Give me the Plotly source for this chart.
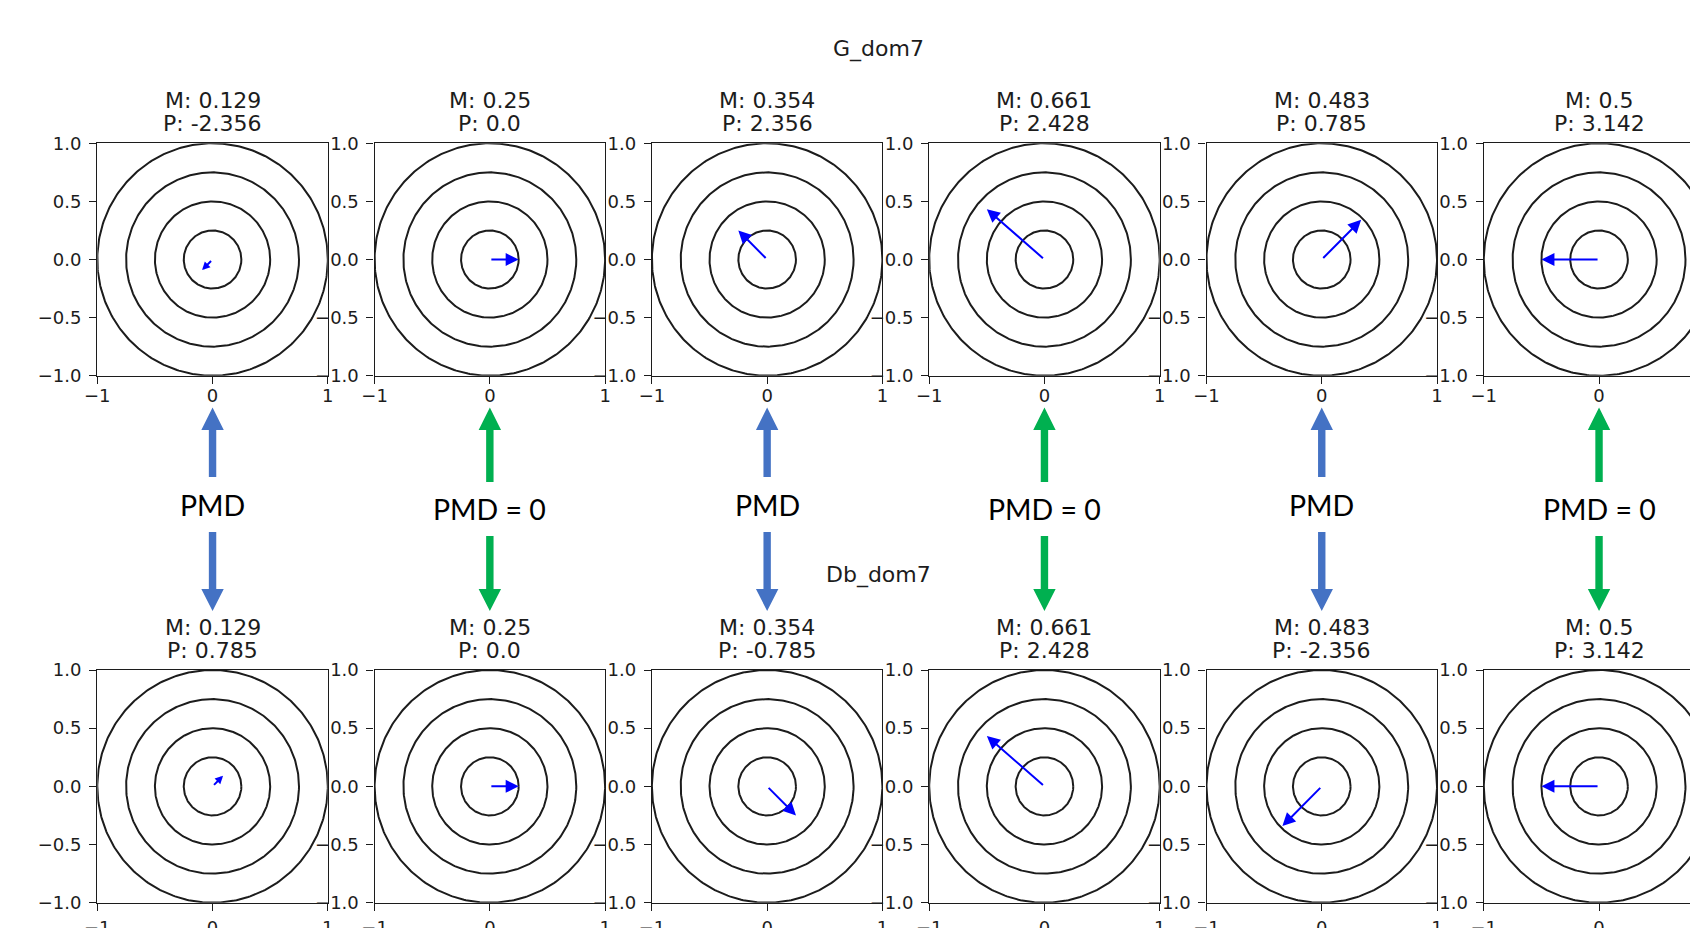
import numpy as np
import plotly.graph_objects as go

# ---------------- data ----------------
chord_titles = ["G_dom7", "Db_dom7"]
magnitudes_G = [0.129, 0.25, 0.354, 0.661, 0.483, 0.5]
phases_G = [-2.356, 0.0, 2.356, 2.428, 0.785, 3.142]
magnitudes_Db = [0.129, 0.25, 0.354, 0.661, 0.483, 0.5]
phases_Db = [0.785, 0.0, -0.785, 2.428, -2.356, 3.142]
pmd_labels = ["PMD", "PMD = 0", "PMD", "PMD = 0", "PMD", "PMD = 0"]
ring_radii = [0.25, 0.5, 0.75, 1.0]
x_tick_vals = [-1, 0, 1]
x_tick_text = ["\u22121", "0", "1"]
y_tick_vals = [-1.0, -0.5, 0.0, 0.5, 1.0]
y_tick_text = ["\u22121.0", "\u22120.5", "0.0", "0.5", "1.0"]

# ---------------- layout geometry (page pixels) ----------------
W, H = 1690, 928
PAGE_OFF = 0          # body margin removed by the post script
AX_LEFT0 = 97.3
AX_STEP = 277.3
AX_W = 230.5
ROW_TOP = [143.3, 670.0]
ROW_BOT = [375.7, 902.7]
MPL_FONT = "DejaVu Sans"
PPT_FONT = "Lato"
BLUE_ARROW = "#4472C4"
GREEN_ARROW = "#00B050"
INK = "#1c1c1c"


def px(x):
    return (x - PAGE_OFF) / W


def py(y):
    return 1 - (y - PAGE_OFF) / H


fig = go.Figure()
theta = np.linspace(0, 2 * np.pi, 361)
annotations = []
shapes = []

rows = [(magnitudes_G, phases_G), (magnitudes_Db, phases_Db)]
n = 0
for r, (mags, phs) in enumerate(rows):
    for c in range(6):
        n += 1
        xname = "x" if n == 1 else f"x{n}"
        yname = "y" if n == 1 else f"y{n}"
        xkey = "xaxis" if n == 1 else f"xaxis{n}"
        ykey = "yaxis" if n == 1 else f"yaxis{n}"
        left = AX_LEFT0 + c * AX_STEP
        right = min(left + AX_W, W)
        xr_hi = -1 + 2 * (right - left) / AX_W
        last = right >= W
        # rings
        for rad in ring_radii:
            fig.add_trace(go.Scatter(
                x=rad * np.cos(theta), y=rad * np.sin(theta), mode="lines",
                line=dict(color=INK, width=2), xaxis=xname, yaxis=yname,
                showlegend=False, hoverinfo="skip"))
        fig.layout[xkey] = dict(
            domain=[px(left), px(right)], range=[-1, xr_hi], anchor=yname,
            tickvals=x_tick_vals, ticktext=x_tick_text, ticks="outside", ticklen=7,
            tickwidth=1.4, tickcolor=INK, showline=True, linecolor=INK, linewidth=1.4,
            mirror=True, showgrid=False, zeroline=False, fixedrange=True,
            automargin=False,
            tickfont=dict(family=MPL_FONT, size=18, color=INK),
            ticklabelstandoff=-4 if r == 0 else 1)
        fig.layout[ykey] = dict(
            domain=[py(ROW_BOT[r]), py(ROW_TOP[r])], range=[-1, 1], anchor=xname,
            tickvals=y_tick_vals, ticktext=y_tick_text, ticks="outside", ticklen=7,
            tickwidth=1.4, tickcolor=INK, showline=True, linecolor=INK, linewidth=1.4,
            mirror=(not last), showgrid=False, zeroline=False, fixedrange=True,
            automargin=False,
            tickfont=dict(family=MPL_FONT, size=18, color=INK),
            ticklabelstandoff=4)
        # vector arrow (quiver)
        m, p = mags[c], phs[c]
        annotations.append(dict(
            x=m * np.cos(p), y=m * np.sin(p), ax=0, ay=0, xref=xname, yref=yname,
            axref=xname, ayref=yname, text="", showarrow=True, arrowhead=2,
            arrowsize=1.3 if m > 0.2 else 0.8, arrowwidth=2,
            arrowcolor="#0000ff", standoff=0))
        # subplot titles
        cx = left + AX_W / 2
        annotations.append(dict(
            x=px(cx), y=py(ROW_TOP[r] - 42.8), xref="paper", yref="paper",
            text=f"M: {m}", showarrow=False, xanchor="center", yanchor="middle",
            font=dict(family=MPL_FONT, size=22, color=INK)))
        annotations.append(dict(
            x=px(cx), y=py(ROW_TOP[r] - 20.0), xref="paper", yref="paper",
            text=f"P: {p}", showarrow=False, xanchor="center", yanchor="middle",
            font=dict(family=MPL_FONT, size=22, color=INK)))

# chord suptitles
annotations.append(dict(x=px(878), y=py(48.7), xref="paper", yref="paper",
                        text=chord_titles[0], showarrow=False,
                        xanchor="center", yanchor="middle",
                        font=dict(family=MPL_FONT, size=22, color=INK)))
annotations.append(dict(x=px(878), y=py(574.5), xref="paper", yref="paper",
                        text=chord_titles[1], showarrow=False,
                        xanchor="center", yanchor="middle",
                        font=dict(family=MPL_FONT, size=22, color=INK)))

# PMD connectors
for c, lab in enumerate(pmd_labels):
    cx = AX_LEFT0 + c * AX_STEP + AX_W / 2
    is_zero = lab != "PMD"
    col = GREEN_ARROW if is_zero else BLUE_ARROW
    text_y = 509.4 if is_zero else 504.5
    up_bot = 482 if is_zero else 477
    dn_top = 536 if is_zero else 532
    sw, hw = 3.7, 11.2
    up = [(cx - sw, up_bot), (cx - sw, 430), (cx - hw, 430), (cx, 407.5),
          (cx + hw, 430), (cx + sw, 430), (cx + sw, up_bot)]
    dn = [(cx - sw, dn_top), (cx - sw, 589), (cx - hw, 589), (cx, 611),
          (cx + hw, 589), (cx + sw, 589), (cx + sw, dn_top)]
    for poly in (up, dn):
        path = "M " + " L ".join(f"{px(a):.5f},{py(b):.5f}" for a, b in poly) + " Z"
        shapes.append(dict(type="path", xref="paper", yref="paper", path=path,
                           fillcolor=col, line=dict(width=0), layer="above"))
    annotations.append(dict(x=px(cx), y=py(text_y), xref="paper", yref="paper",
                            text=lab, showarrow=False, xanchor="center", yanchor="middle",
                            font=dict(family=PPT_FONT, size=28.5, color="#000")))

fig.update_layout(
    template="none",
    width=W, height=H, margin=dict(l=0, r=0, t=0, b=0, pad=0), autosize=False,
    paper_bgcolor="white", plot_bgcolor="white",
    showlegend=False, annotations=annotations, shapes=shapes,
)

fig.write_html(
    "out.html", config={"displayModeBar": False},
    post_script="document.body.style.margin='0';document.body.style.overflow='hidden';"
                "document.documentElement.style.overflow='hidden';",
)
